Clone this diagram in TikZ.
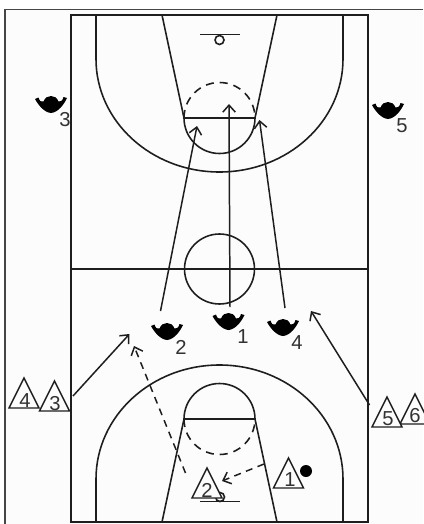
\documentclass[tikz,border=0pt]{standalone}
\usepackage{fontspec}
\setmainfont{Liberation Sans}
\usepackage{xcolor}
\usetikzlibrary{arrows.meta, shapes.geometric}
\definecolor{courtline}{RGB}{30, 30, 30}
\definecolor{paperback}{RGB}{252, 252, 252}
\definecolor{framegray}{RGB}{70, 70, 70}
\definecolor{numgray}{RGB}{50, 50, 50}

\begin{document}
\begin{tikzpicture}[x=0.02cm, y=-0.02cm, font=\fontsize{11.5}{13}\selectfont,
  court/.style={draw=courtline, line width=0.9pt},
  run/.style={draw=courtline, line width=0.85pt, -{Straight Barb[length=0.14cm, width=0.25cm]}},
  rundash/.style={run, dash pattern=on 0.14cm off 0.11cm},
  tri/.style={draw=courtline, fill=paperback, line width=0.8pt, isosceles triangle,
              isosceles triangle apex angle=54, isosceles triangle stretches,
              shape border rotate=90, inner sep=0pt, outer sep=0pt,
              minimum height=0.6cm, minimum width=0.6cm, anchor=lower side},
  num/.style={text=numgray, inner sep=0pt},
  player/.pic={
    \fill[black] (-16,-5.5) .. controls (-13,0) and (-7,8) .. (0,8.5)
      .. controls (7,8) and (13,0) .. (16,-6.5) -- (12.5,-7.5)
      .. controls (11.5,-3.5) and (9.5,-2.5) .. (7.5,-3) .. controls (6,-7) and (3,-8.5) .. (0,-8.5)
      .. controls (-3,-8.5) and (-6,-7) .. (-7.5,-3) .. controls (-9.5,-2.5) and (-11.5,-3) .. (-12.5,-7) -- cycle;
  }]
  \useasboundingbox (0,0) rectangle (423,524);
  \fill[white] (0,0) rectangle (423,524);
  \fill[paperback] (5,9.5) rectangle (423,524);
  \draw[framegray, line width=0.8pt] (423,9.5) -- (5,9.5) -- (5,524);

  % court
  \draw[court] (71,15) rectangle (368,522);
  \draw[court] (71,269) -- (368,269);
  \draw[court] (219.5,269) circle[radius=35];
  % top half
  \draw[court] (96,15) -- (96,59) arc[start angle=180, end angle=0, x radius=123.5, y radius=113] -- (343,15);
  \draw[court] (162,15) -- (184,118) -- (255,118) -- (277,15);
  \draw[court] (184,118) arc[start angle=180, end angle=0, radius=35.5];
  \draw[court, dash pattern=on 0.16cm off 0.12cm] (184,118) arc[start angle=180, end angle=360, radius=35.5];
  \draw[court] (200,34.5) -- (240,34.5);
  \draw[court] (219.5,40) circle[radius=4.5];
  % bottom half
  \draw[court] (96,522) -- (96,479) arc[start angle=180, end angle=360, x radius=123.5, y radius=114] -- (343,522);
  \draw[court] (162,522) -- (184,419) -- (255,419) -- (277,522);
  \draw[court] (184,419) arc[start angle=180, end angle=360, radius=35.5];
  \draw[court, dash pattern=on 0.16cm off 0.12cm] (184,419) arc[start angle=180, end angle=0, radius=35.5];
  \draw[court] (200,501.5) -- (240,501.5);
  \draw[court] (220,497) circle[radius=4.5];

  % defenders
  \pic (d3) at (51,104.5) {player};
  \pic (d5) at (388,110.5) {player};
  \pic (d2) at (167,331.5) {player};
  \pic (d1) at (228.5,321.5) {player};
  \pic (d4) at (283,327.5) {player};
  \node[num] (l3) at (65,120) {3};
  \node[num] (l5) at (402,126) {5};
  \node[num] (l2) at (181,347) {2};
  \node[num] (l1) at (243,337) {1};
  \node[num] (l4) at (297,343) {4};

  % attackers
  \node[tri] (t6) at (415,424) {};
  \node[tri] (t4) at (24,408) {};
  \node[tri] (t3) at (54.5,411) {};
  \node[tri] (t5) at (387,427) {};
  \node[tri] (t1) at (288.5,488) {};
  \node[tri] (t2) at (207,498) {};
  \node[num] (n6) at (415,416) {6};
  \node[num] (n4) at (25,401) {4};
  \node[num] (n3) at (55,404) {3};
  \node[num] (n5) at (388,419) {5};
  \node[num] (n1) at (290,480) {1};
  \node[num] (n2) at (207,490) {2};
  \node[circle, fill=black, inner sep=0pt, minimum size=0.24cm] (ball) at (306,471) {};

  % moves
  \coordinate (m2a) at (160.5,311);
  \coordinate (m2b) at (197,126);
  \coordinate (m1a) at (230,307);
  \coordinate (m1b) at (229,104);
  \coordinate (m4a) at (285,308);
  \coordinate (m4b) at (259.5,120);
  \coordinate (m3a) at (73,396);
  \coordinate (m3b) at (129.5,334);
  \coordinate (m5a) at (369.5,405);
  \coordinate (m5b) at (311,311);
  \coordinate (m6a) at (185.5,473);
  \coordinate (m6b) at (134,346);
  \coordinate (m7a) at (264,464);
  \coordinate (m7b) at (222,481);
  \draw[run] (m2a) -- (m2b);
  \draw[run] (m1a) -- (m1b);
  \draw[run] (m4a) -- (m4b);
  \draw[run] (m3a) -- (m3b);
  \draw[run] (m5a) -- (m5b);
  \draw[rundash] (m6a) -- (m6b);
  \draw[rundash] (m7a) -- (m7b);
\end{tikzpicture}
\end{document}
